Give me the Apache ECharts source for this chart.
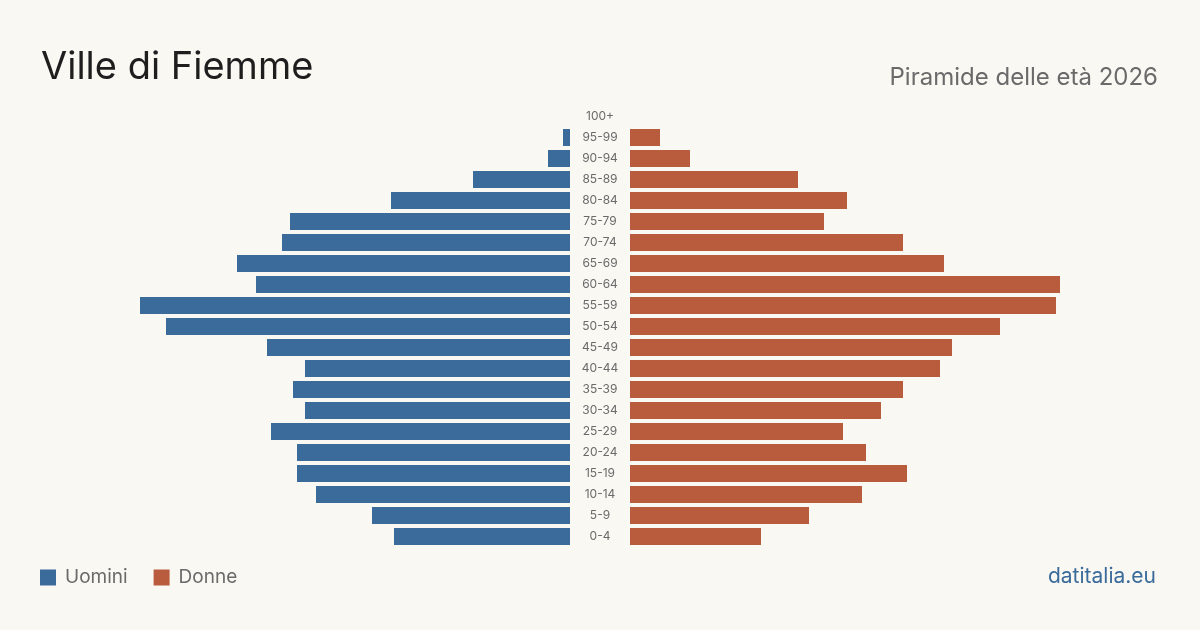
<!DOCTYPE html>
<html>
<head>
<meta charset="utf-8">
<style>
    html,body{margin:0;padding:0;background:#f9f8f3;}
    #chart{width:1200px;height:630px;}
</style>
<script src="https://cdn.jsdelivr.net/npm/echarts@6/dist/echarts.min.js"></script>
</head>
<body>
<div id="chart"></div>
<script>
    // classi di età, dal basso verso l'alto
    var ageGroups = ["0-4","5-9","10-14","15-19","20-24","25-29","30-34","35-39","40-44","45-49",
        "50-54","55-59","60-64","65-69","70-74","75-79","80-84","85-89","90-94","95-99","100+"];
    // valori (scala relativa, max = 430)
    var uomini = [176,198,254,273,273,299,265,277,265,303,404,430,314,333,288,280,179,97,22,7,0];
    var donne  = [131,179,232,277,236,213,251,273,310,322,370,426,430,314,273,194,217,168,60,30,0];
    var scaleMax = 430;

    var blu = '#3b6b9b', rosso = '#b95c3d';
    var font = 'Inter, "Noto Sans", sans-serif';

    var chart = echarts.init(document.getElementById('chart'));
    var option = {
        backgroundColor: '#f9f8f3',
        animation: false,
        textStyle: {fontFamily: font},
        title: [
            {text: 'Ville di Fiemme', left: 36, top: 44,
                textStyle: {fontSize: 38, fontWeight: 'normal', color: '#1e1e1e', fontFamily: font}},
            {text: 'Piramide delle età 2026', right: 37, top: 61,
                textStyle: {fontSize: 24, fontWeight: 'normal', color: '#6a6a6a', fontFamily: font}}
        ],
        legend: {
            left: 35, top: 563, itemWidth: 16, itemHeight: 16, itemGap: 26, icon: 'rect',
            textStyle: {fontSize: 19, color: '#6a6a6a', fontFamily: font, padding: [0,0,0,4]},
            data: ['Uomini','Donne']
        },
        graphic: [
            {type: 'text', right: 44, top: 566,
                style: {text: 'datitalia.eu', fontSize: 21, fill: blu, fontFamily: font}}
        ],
        grid: [
            {left: 140, width: 430, top: 106, height: 441},
            {left: 630, width: 430, top: 106, height: 441}
        ],
        xAxis: [
            {gridIndex: 0, type: 'value', inverse: true, min: 0, max: scaleMax, show: false},
            {gridIndex: 1, type: 'value', min: 0, max: scaleMax, show: false}
        ],
        yAxis: [
            {gridIndex: 0, type: 'category', data: ageGroups, position: 'right',
                axisLine: {show: false}, axisTick: {show: false}, splitLine: {show: false},
                axisLabel: {margin: 30, align: 'center', fontSize: 12, color: '#6a6a6a', fontFamily: font}},
            {gridIndex: 1, type: 'category', data: ageGroups, show: false}
        ],
        series: [
            {name: 'Uomini', type: 'bar', xAxisIndex: 0, yAxisIndex: 0, data: uomini,
                barWidth: 17, itemStyle: {color: blu}},
            {name: 'Donne', type: 'bar', xAxisIndex: 1, yAxisIndex: 1, data: donne,
                barWidth: 17, itemStyle: {color: rosso}}
        ]
    };
    chart.setOption(option);
</script>
</body>
</html>
